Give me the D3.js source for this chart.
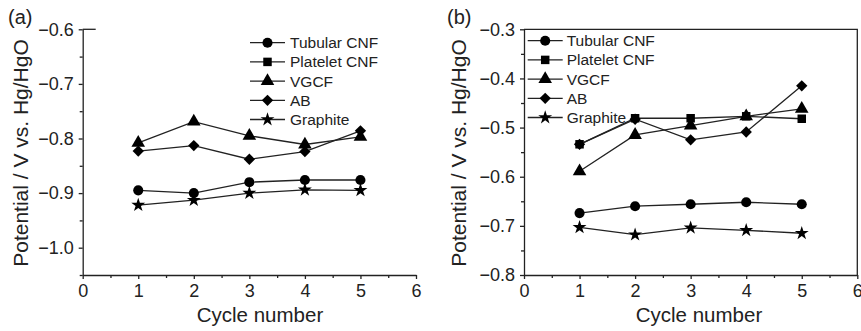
<!DOCTYPE html>
<html>
<head>
<meta charset="utf-8">
<script src="https://cdn.jsdelivr.net/npm/d3@7/dist/d3.min.js"></script>
<style>
body{margin:0;background:#fff;}
svg{display:block;font-family:"Liberation Sans",Arial,sans-serif;}
</style>
</head>
<body>
<svg id="chart" width="861" height="331"></svg>
<script>
const cycles = [1, 2, 3, 4, 5];
const seriesNames = ["Tubular CNF", "Platelet CNF", "VGCF", "AB", "Graphite"];
const xTicks = [0, 1, 2, 3, 4, 5, 6];

// Panel (a)
const aTubular  = [-0.895, -0.900, -0.880, -0.876, -0.876];
const aPlatelet = [];
const aVGCF     = [-0.808, -0.769, -0.795, -0.811, -0.797];
const aAB       = [-0.823, -0.813, -0.838, -0.824, -0.786];
const aGraphite = [-0.922, -0.913, -0.900, -0.894, -0.895];
const aYTicks   = [-1.0, -0.9, -0.8, -0.7, -0.6];

// Panel (b)
const bTubular  = [-0.674, -0.660, -0.656, -0.652, -0.656];
const bPlatelet = [-0.534, -0.481, -0.481, -0.477, -0.482];
const bVGCF     = [-0.589, -0.515, -0.496, -0.477, -0.462];
const bAB       = [-0.534, -0.483, -0.525, -0.509, -0.415];
const bGraphite = [-0.703, -0.718, -0.704, -0.709, -0.715];
const bYTicks   = [-0.8, -0.7, -0.6, -0.5, -0.4, -0.3];

const svg = d3.select("#chart");
const INK = "#222";
const symbols = [d3.symbolCircle, d3.symbolSquare, d3.symbolTriangle, "diamond", d3.symbolStar];
const symSize = [80, 72, 80, 64, 60];

function symPath(i) {
  const t = symbols[i] === "diamond" ? d3.symbolSquare : symbols[i];
  return d3.symbol().type(t).size(symSize[i])();
}
function symTransform(i, x, y) {
  return `translate(${x},${y})` + (symbols[i] === "diamond" ? " rotate(45)" : "");
}

function panel(cfg) {
  const x = d3.scaleLinear().domain([0, 6]).range([cfg.x0, cfg.x1]);
  const y = d3.scaleLinear().domain(cfg.yDomain).range([275, 29.3]);
  const g = svg.append("g");

  // minor ticks
  const minorX = d3.range(0, 6.01, 0.5).filter(v => !xTicks.includes(v));
  g.append("g").attr("transform", "translate(0,275)")
    .call(d3.axisBottom(x).tickValues(minorX).tickSize(3).tickFormat("").tickSizeOuter(0))
    .call(s => s.select(".domain").remove());
  const minorY = d3.range(cfg.yDomain[0], cfg.yDomain[1] + 1e-6, 0.05)
    .filter(v => Math.abs(Math.round(v * 10) - v * 10) > 1e-6);
  g.append("g").attr("transform", `translate(${cfg.x0},0)`)
    .call(d3.axisLeft(y).tickValues(minorY).tickSize(3).tickFormat("").tickSizeOuter(0))
    .call(s => s.select(".domain").remove());

  // major axes
  const ax = g.append("g").attr("transform", "translate(0,275)")
    .call(d3.axisBottom(x).tickValues(xTicks).tickSize(4).tickPadding(5).tickSizeOuter(0).tickFormat(d3.format("d")));
  const ay = g.append("g").attr("transform", `translate(${cfg.x0},0)`)
    .call(d3.axisLeft(y).tickValues(cfg.yTicks).tickSize(4).tickPadding(5).tickSizeOuter(0).tickFormat(d3.format(".1f")));
  [ax, ay].forEach(a => {
    a.selectAll("text").attr("font-size", 18).attr("fill", INK).attr("font-family", '"Liberation Sans",Arial,sans-serif');
    a.selectAll("line,path").attr("stroke", INK).attr("stroke-width", 1.3);
  });
  g.selectAll(".tick line").attr("stroke", INK).attr("stroke-width", 1.3);

  if (cfg.box) {
    g.append("path")
      .attr("d", `M${cfg.x0},${y(cfg.yDomain[1])}H${cfg.x1}V275`)
      .attr("fill", "none").attr("stroke", INK).attr("stroke-width", 1.3);
  } else {
    g.append("line").attr("x1", cfg.x0).attr("x2", cfg.x0 + 13)
      .attr("y1", y(cfg.yDomain[1])).attr("y2", y(cfg.yDomain[1]))
      .attr("stroke", INK).attr("stroke-width", 1.3);
  }

  // series
  const line = d3.line().x(d => x(d[0])).y(d => y(d[1]));
  cfg.series.forEach((vals, i) => {
    const pts = vals.map((v, k) => [cycles[k], v]);
    if (!pts.length) return;
    g.append("path").attr("d", line(pts)).attr("fill", "none")
      .attr("stroke", INK).attr("stroke-width", 1.3);
    g.selectAll(null).data(pts).enter().append("path")
      .attr("d", symPath(i))
      .attr("transform", d => symTransform(i, x(d[0]), y(d[1])))
      .attr("fill", "#000");
  });

  // legend
  seriesNames.forEach((name, i) => {
    const ly = cfg.legY + i * 19.2;
    g.append("line").attr("x1", cfg.legX).attr("x2", cfg.legX + 35).attr("y1", ly).attr("y2", ly)
      .attr("stroke", INK).attr("stroke-width", 1.3);
    g.append("path").attr("d", symPath(i)).attr("transform", symTransform(i, cfg.legX + 17.5, ly)).attr("fill", "#000");
    g.append("text").attr("x", cfg.legX + cfg.legText).attr("y", ly).attr("dy", "0.36em")
      .attr("font-size", 15.5).attr("fill", INK).text(name);
  });

  // labels
  g.append("text").attr("x", cfg.labelX).attr("y", 322).attr("text-anchor", "middle")
    .attr("font-size", 20.5).attr("fill", INK).text("Cycle number");
  g.append("text").attr("transform", `translate(${cfg.yLabelX},153) rotate(-90)`)
    .attr("text-anchor", "middle").attr("font-size", 21).attr("fill", INK)
    .text("Potential / V vs. Hg/HgO");
  g.append("text").attr("x", cfg.tagX).attr("y", 24).attr("font-size", 20).attr("fill", INK).text(cfg.tag);
}

panel({
  x0: 82.7, x1: 416, yDomain: [-1.05, -0.6], yTicks: aYTicks, box: false,
  series: [aTubular, aPlatelet, aVGCF, aAB, aGraphite],
  legX: 250, legY: 42.7, legText: 40, labelX: 260, yLabelX: 28, tagX: 8, tag: "(a)"
});
panel({
  x0: 524, x1: 857.3, yDomain: [-0.8, -0.3], yTicks: bYTicks, box: true,
  series: [bTubular, bPlatelet, bVGCF, bAB, bGraphite],
  legX: 527.7, legY: 40.7, legText: 39, labelX: 699, yLabelX: 466, tagX: 447, tag: "(b)"
});
</script>
</body>
</html>
